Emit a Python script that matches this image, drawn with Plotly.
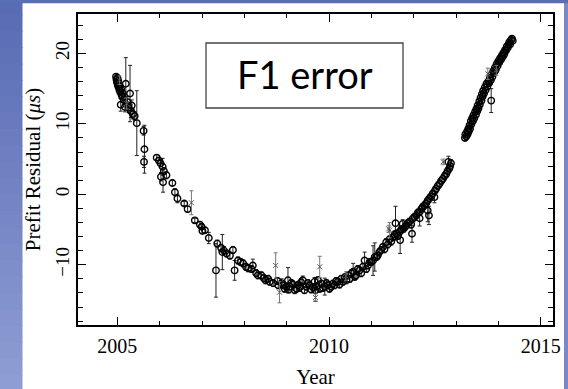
import plotly.graph_objects as go

# ---------------- data ----------------
# open-circle points: year, prefit residual (us), error (us)
circ_year = [
    2004.97, 2004.98, 2004.99, 2005.00, 2005.01, 2005.02, 2005.03, 2005.04, 2005.05, 2005.06,
    2005.07, 2005.08, 2005.09, 2005.10, 2005.12, 2005.13, 2005.15, 2005.18, 2005.20, 2005.24,
    2005.27, 2005.30, 2005.32, 2005.34, 2005.37, 2005.41, 2005.46, 2005.62, 2005.64, 2005.63,
    2005.93, 2005.98, 2006.02, 2006.07, 2006.10, 2006.03, 2006.08, 2006.16, 2006.30, 2006.36,
    2006.42, 2006.58, 2006.66, 2006.83, 2006.95, 2006.99, 2007.01, 2007.07, 2007.16, 2007.33,
    2007.36, 2007.45, 2007.48, 2007.52, 2007.58, 2007.66, 2007.73, 2007.77, 2007.85, 2007.91,
    2007.97, 2008.04, 2008.09, 2008.17, 2008.20, 2008.28, 2008.32, 2008.40, 2008.46, 2008.50,
    2008.56, 2008.60, 2008.68, 2008.78, 2008.80, 2008.88, 2008.91, 2008.95, 2008.99, 2009.03,
    2009.05, 2009.07, 2009.11, 2009.15, 2009.19, 2009.23, 2009.27, 2009.31, 2009.34, 2009.38,
    2009.42, 2009.46, 2009.50, 2009.54, 2009.58, 2009.62, 2009.66, 2009.68, 2009.71, 2009.74,
    2009.78, 2009.82, 2009.86, 2009.90, 2009.94, 2009.97, 2010.01, 2010.05, 2010.09, 2010.13,
    2010.17, 2010.21, 2010.25, 2010.29, 2010.33, 2010.37, 2010.41, 2010.45, 2010.49, 2010.53,
    2010.57, 2010.61, 2010.64, 2010.68, 2010.72, 2010.76, 2010.80, 2010.84, 2010.88, 2010.92,
    2010.96, 2011.00, 2011.04, 2011.08, 2011.12, 2011.15, 2011.19, 2011.23, 2011.27, 2011.31,
    2011.35, 2011.39, 2011.43, 2011.47, 2011.51, 2011.55, 2011.57, 2011.59, 2011.63, 2011.67,
    2011.68, 2011.71, 2011.74, 2011.76, 2011.80, 2011.82, 2011.86, 2011.90, 2011.94, 2011.96,
    2011.98, 2012.02, 2012.06, 2012.10, 2012.14, 2012.14, 2012.18, 2012.21, 2012.25, 2012.29,
    2012.33, 2012.33, 2012.36, 2012.37, 2012.41, 2012.45, 2012.49, 2012.50, 2012.53, 2012.57,
    2012.61, 2012.65, 2012.69, 2012.73, 2012.77, 2012.80, 2012.84, 2012.86, 2012.88, 2012.82,
    2013.21, 2013.22, 2013.24, 2013.26, 2013.27, 2013.29, 2013.30, 2013.32, 2013.33, 2013.35,
    2013.36, 2013.38, 2013.40, 2013.41, 2013.43, 2013.45, 2013.47, 2013.48, 2013.50, 2013.51,
    2013.53, 2013.55, 2013.56, 2013.58, 2013.60, 2013.61, 2013.63, 2013.64, 2013.66, 2013.68,
    2013.70, 2013.72, 2013.74, 2013.76, 2013.78, 2013.80, 2013.82, 2013.83, 2013.84, 2013.86,
    2013.88, 2013.90, 2013.92, 2013.94, 2013.96, 2013.98, 2014.00, 2014.02, 2014.04, 2014.06,
    2014.08, 2014.10, 2014.12, 2014.14, 2014.16, 2014.18, 2014.20, 2014.22, 2014.24, 2014.26,
    2014.28, 2014.30, 2014.32, 2014.34,
]
circ_resid = [
    16.7, 16.3, 15.9, 16.5, 15.5, 16.1, 15.2, 15.7, 14.8, 15.3,
    14.5, 12.7, 14.9, 14.1, 13.8, 14.3, 13.4, 12.4, 15.7, 13.1,
    12.3, 14.3, 11.8, 12.6, 11.4, 11.1, 10.1, 9.0, 6.4, 4.6,
    5.2, 4.8, 4.4, 3.9, 3.3, 2.5, 1.7, 2.7, 1.6, 0.3,
    -0.6, -1.3, -2.1, -3.7, -4.3, -4.6, -5.2, -5.1, -6.2, -10.8,
    -7.0, -7.6, -8.2, -8.0, -8.4, -8.7, -7.9, -10.8, -9.4, -9.6,
    -9.8, -10.3, -10.5, -10.6, -10.1, -11.2, -11.5, -11.5, -11.9, -12.2,
    -12.0, -12.4, -12.6, -12.3, -12.9, -12.6, -12.9, -13.4, -13.1, -12.2,
    -13.5, -13.1, -12.6, -12.8, -13.6, -13.4, -12.9, -13.2, -12.5, -12.2,
    -13.6, -13.1, -12.6, -12.9, -13.5, -13.2, -12.4, -13.6, -13.0, -12.2,
    -13.4, -12.7, -13.3, -13.1, -12.6, -12.9, -13.4, -13.1, -12.7, -12.9,
    -12.3, -12.4, -12.8, -12.0, -12.4, -11.8, -12.2, -11.5, -12.0, -11.2,
    -11.0, -11.7, -11.5, -10.6, -10.8, -11.2, -10.3, -9.4, -10.6, -10.1,
    -9.6, -9.6, -9.4, -8.9, -8.9, -8.7, -8.2, -7.9, -7.5, -7.8,
    -6.8, -7.1, -6.4, -6.7, -6.1, -5.7, -4.1, -5.6, -5.9, -5.3,
    -6.5, -5.0, -4.2, -4.9, -4.6, -4.4, -4.1, -3.9, -4.3, -5.6,
    -3.45, -3.2, -3.0, -2.6, -3.4, -2.5, -2.1, -1.8, -1.6, -1.3,
    -2.3, -0.9, -3.0, -0.6, -0.3, 0.1, -0.4, 0.5, 0.8, 1.2,
    1.5, 1.9, 2.2, 2.6, 2.9, 3.3, 3.65, 4.0, 4.4, 4.6,
    8.0, 8.5, 8.2, 8.9, 8.5, 9.3, 8.9, 9.8, 9.3, 10.4,
    9.9, 10.8, 10.4, 11.2, 10.8, 11.7, 11.3, 12.1, 11.8, 12.6,
    12.2, 13.2, 12.7, 13.7, 13.3, 14.2, 13.9, 14.7, 14.3, 15.2,
    14.8, 15.7, 15.3, 16.0, 15.8, 16.5, 16.2, 13.3, 17.0, 16.7,
    17.5, 17.3, 18.0, 17.7, 18.5, 18.2, 18.9, 18.7, 19.3, 19.1,
    19.7, 19.5, 20.1, 19.9, 20.5, 20.4, 21.0, 20.8, 21.3, 21.6,
    21.3, 21.9, 22.1, 21.8,
]
circ_err = [
    0.4, 0.4, 0.5, 0.4, 0.4, 0.5, 0.4, 0.4, 0.5, 0.4,
    0.4, 0.9, 0.4, 0.5, 0.4, 0.5, 0.6, 0.7, 3.7, 0.8,
    0.7, 4.0, 0.9, 0.8, 0.7, 0.6, 4.6, 0.6, 3.4, 0.8,
    0.4, 0.4, 0.5, 1.2, 0.5, 0.6, 1.4, 0.5, 0.4, 0.5,
    0.6, 0.3, 0.4, 0.3, 0.4, 0.3, 0.3, 0.4, 0.8, 3.8,
    0.5, 0.5, 2.5, 0.6, 0.5, 0.5, 0.5, 1.4, 0.5, 0.5,
    0.5, 0.5, 0.5, 0.5, 0.9, 0.5, 0.5, 0.5, 0.5, 0.5,
    0.5, 0.5, 0.5, 0.5, 0.5, 0.6, 0.5, 0.5, 0.5, 1.8,
    0.5, 0.5, 0.5, 0.5, 0.5, 0.5, 0.5, 0.6, 0.5, 0.6,
    0.5, 0.5, 0.5, 0.5, 0.5, 0.5, 0.6, 1.6, 0.5, 0.5,
    0.5, 0.5, 0.5, 1.2, 0.5, 0.5, 0.5, 0.5, 0.5, 0.5,
    0.5, 0.5, 0.5, 0.5, 0.5, 0.5, 0.5, 0.5, 0.5, 0.5,
    1.2, 0.5, 0.5, 0.5, 0.5, 0.5, 0.5, 1.2, 0.5, 0.5,
    0.5, 0.5, 2.1, 2.0, 0.5, 0.5, 0.5, 0.5, 0.5, 0.5,
    0.5, 0.5, 0.5, 0.5, 0.5, 0.5, 2.4, 0.5, 0.5, 0.5,
    1.9, 0.5, 0.6, 0.5, 0.5, 0.5, 0.5, 0.5, 0.5, 1.2,
    0.5, 0.5, 0.5, 0.5, 1.1, 0.5, 0.5, 0.5, 0.5, 0.5,
    1.6, 0.5, 1.3, 0.5, 0.5, 0.5, 0.8, 0.5, 0.5, 0.5,
    0.5, 0.5, 0.5, 0.5, 0.5, 0.5, 0.5, 0.6, 0.5, 0.8,
    0.4, 0.4, 0.4, 0.4, 0.5, 0.4, 0.5, 0.4, 0.5, 0.4,
    0.6, 0.4, 0.5, 0.4, 0.5, 0.4, 0.5, 0.4, 0.5, 0.4,
    0.6, 0.4, 0.5, 0.4, 0.5, 0.4, 0.5, 0.4, 0.5, 0.4,
    0.5, 0.4, 0.5, 0.4, 0.5, 0.4, 0.6, 1.7, 0.4, 0.5,
    0.4, 0.5, 0.4, 0.5, 0.4, 0.5, 0.4, 0.5, 0.4, 0.5,
    0.4, 0.5, 0.4, 0.5, 0.4, 0.5, 0.4, 0.5, 0.4, 0.4,
    0.5, 0.4, 0.4, 0.4,
]

# cross-marked points (grey error bars)
cross_year = [2005.05, 2005.22, 2006.75, 2008.74, 2008.83, 2009.68, 2009.78, 2010.40,
              2011.41, 2011.43, 2012.70, 2013.75, 2013.95]
cross_resid = [16.2, 12.9, -1.2, -10.1, -13.9, -14.65, -10.3, -11.6,
               -4.9, -5.1, 4.6, 17.1, 17.6]
cross_err = [0.6, 0.8, 1.7, 1.8, 1.5, 0.5, 1.5, 0.6,
             0.5, 1.1, 0.4, 0.8, 0.7]

x_ticks = [2005, 2010, 2015]
y_ticks = [-10, 0, 10, 20]
box_text = "F1 error"

# ---------------- layout helpers (pixel -> paper) ----------------
W, H = 568, 389
ML, MR, MT, MB = 78, 15, 14, 64
PW, PH = W - ML - MR, H - MT - MB


def px(p):
    return (p - ML) / PW


def py(p):
    return (H - MB - p) / PH


fig = go.Figure()

fig.add_trace(go.Scatter(
    x=circ_year, y=circ_resid, mode="markers",
    marker=dict(symbol="circle-open", size=6.5, color="black", line=dict(width=1.4, color="black")),
    error_y=dict(type="data", array=circ_err, visible=True, color="#222222", thickness=1, width=2),
    showlegend=False, hoverinfo="x+y",
))
fig.add_trace(go.Scatter(
    x=cross_year, y=cross_resid, mode="markers",
    marker=dict(symbol="x-thin-open", size=5, color="#555555", line=dict(width=1, color="#555555")),
    error_y=dict(type="data", array=cross_err, visible=True, color="#777777", thickness=1, width=2),
    showlegend=False, hoverinfo="x+y",
))

# slide background: blue strips (left gradient, top, right) around the white image area
shapes = []
nb = 24
c0 = (88, 107, 180)
c1 = (142, 157, 211)
for i in range(nb):
    t = i / (nb - 1)
    col = "rgb(%d,%d,%d)" % tuple(int(round(a + (b - a) * t)) for a, b in zip(c0, c1))
    y_top = -2 + i * (H + 4) / nb
    y_bot = -2 + (i + 1) * (H + 4) / nb + 1
    shapes.append(dict(type="rect", xref="paper", yref="paper", layer="below",
                       x0=px(-2), x1=px(22.5), y0=py(y_bot), y1=py(y_top),
                       line=dict(width=0), fillcolor=col))
shapes.append(dict(type="rect", xref="paper", yref="paper", layer="below",
                   x0=px(564), x1=px(W + 2), y0=py(H + 2), y1=py(-2),
                   line=dict(width=0), fillcolor="rgb(120,137,200)"))
shapes.append(dict(type="rect", xref="paper", yref="paper", layer="below",
                   x0=px(-2), x1=px(W + 2), y0=py(3.3), y1=py(-2),
                   line=dict(width=0), fillcolor="rgb(90,110,182)"))
# F1 error box
shapes.append(dict(type="rect", xref="paper", yref="paper", layer="above",
                   x0=px(206), x1=px(403), y0=py(108), y1=py(43),
                   line=dict(width=1.3, color="#444444"), fillcolor="white"))

fig.update_layout(
    width=W, height=H,
    margin=dict(l=ML, r=MR, t=MT, b=MB, pad=0, autoexpand=False),
    paper_bgcolor="white",
    plot_bgcolor="white",
    shapes=shapes,
    annotations=[dict(text=box_text, xref="paper", yref="paper",
                      x=px(304.5), y=py(74), xanchor="center", yanchor="middle",
                      showarrow=False, font=dict(family="Lato", size=38, color="black"))],
    font=dict(family="Liberation Serif", color="black"),
)

fig.update_xaxes(
    range=[2004.071, 2015.29], tickvals=x_ticks, ticktext=[str(v) for v in x_ticks],
    ticks="inside", ticklen=8, tickwidth=1, tickcolor="black",
    minor=dict(ticks="inside", dtick=1, tick0=2005, ticklen=4, tickwidth=1, tickcolor="black"),
    showline=True, linecolor="black", linewidth=1.5, mirror="allticks",
    showgrid=False, zeroline=False, ticklabelstandoff=2, automargin=False,
    tickfont=dict(family="Liberation Serif", size=20, color="black"),
    title=dict(text="Year", font=dict(family="Liberation Serif", size=21, color="black"), standoff=18),
)
fig.update_yaxes(
    range=[-18.55, 25.59], tickvals=y_ticks, ticktext=["−10", "0", "10", "20"],
    ticks="inside", ticklen=8, tickwidth=1, tickcolor="black", tickangle=-90,
    minor=dict(ticks="inside", dtick=2, tick0=0, ticklen=5, tickwidth=1, tickcolor="black"),
    showline=True, linecolor="black", linewidth=1.5, mirror="allticks",
    showgrid=False, zeroline=False, automargin=False,
    tickfont=dict(family="Liberation Serif", size=19, color="black"),
    title=dict(text="Prefit Residual (<i>μs</i>)", font=dict(family="Liberation Serif", size=21, color="black"), standoff=5),
)

fig.write_html("out.html")
